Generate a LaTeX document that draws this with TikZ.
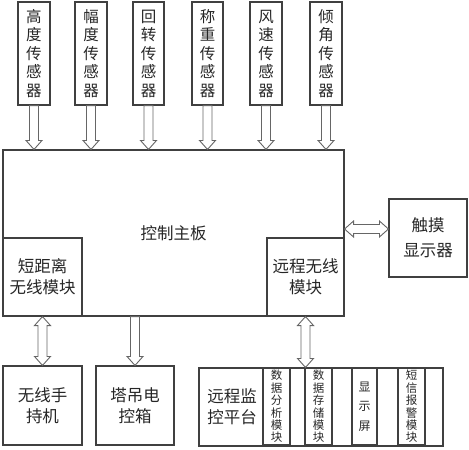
\documentclass[tikz,border=0pt]{standalone}
\usepackage{fontspec}
\setmainfont{Noto Sans CJK SC}
\usetikzlibrary{calc}

\begin{document}
\begin{tikzpicture}[
  x=1pt, y=-1pt,
  box/.style={rectangle, draw=black!75, line width=1.1pt, inner sep=0pt, align=center, text=black!85, font=\fontsize{16.5}{21}\selectfont},
  sensor/.style={box, minimum width=32pt, minimum height=103pt, font=\fontsize{15.5}{18.5}\selectfont},
  module/.style={box, minimum width=78pt, minimum height=78pt},
  sub/.style={box, line width=1.6pt, minimum width=27pt, minimum height=77pt, font=\fontsize{11.5}{12.4}\selectfont},
  arr/.style={draw=black!60, line width=0.9pt, fill=white,
    to path={($(\tikztostart)!4.5pt!90:(\tikztotarget)$)
      -- ($(\tikztotarget)!9pt!(\tikztostart)!4.5pt!90:(\tikztotarget)$)
      -- ($(\tikztotarget)!9pt!(\tikztostart)!8pt!90:(\tikztotarget)$)
      -- (\tikztotarget)
      -- ($(\tikztotarget)!9pt!(\tikztostart)!8pt!-90:(\tikztotarget)$)
      -- ($(\tikztotarget)!9pt!(\tikztostart)!4.5pt!-90:(\tikztotarget)$)
      -- ($(\tikztostart)!4.5pt!-90:(\tikztotarget)$) -- cycle}},
  darr/.style={draw=black!60, line width=0.9pt, fill=white,
    to path={(\tikztostart)
      -- ($(\tikztostart)!9pt!(\tikztotarget)!8pt!90:(\tikztotarget)$)
      -- ($(\tikztostart)!9pt!(\tikztotarget)!4.5pt!90:(\tikztotarget)$)
      -- ($(\tikztotarget)!9pt!(\tikztostart)!4.5pt!90:(\tikztotarget)$)
      -- ($(\tikztotarget)!9pt!(\tikztostart)!8pt!90:(\tikztotarget)$)
      -- (\tikztotarget)
      -- ($(\tikztotarget)!9pt!(\tikztostart)!8pt!-90:(\tikztotarget)$)
      -- ($(\tikztotarget)!9pt!(\tikztostart)!4.5pt!-90:(\tikztotarget)$)
      -- ($(\tikztostart)!9pt!(\tikztotarget)!4.5pt!-90:(\tikztotarget)$)
      -- ($(\tikztostart)!9pt!(\tikztotarget)!8pt!-90:(\tikztotarget)$) -- cycle}}
]
\useasboundingbox (0,0) rectangle (469,450);

% sensors
\node[sensor] (height) at (34,53.5) {高\\度\\传\\感\\器};
\node[sensor] (range) at (91,53.5) {幅\\度\\传\\感\\器};
\node[sensor, minimum width=31pt] (slew) at (148.5,53.5) {回\\转\\传\\感\\器};
\node[sensor, minimum width=31pt] (weight) at (207.5,53.5) {称\\重\\传\\感\\器};
\node[sensor] (wind) at (266,53.5) {风\\速\\传\\感\\器};
\node[sensor] (tilt) at (326,53.5) {倾\\角\\传\\感\\器};

% main board and its modules
\node[box, minimum width=341pt, minimum height=166pt] (board) at (173.5,233) {控制主板};
\node[module, minimum width=79pt] (short) at (42.5,277) {短距离\\无线模块};
\node[module, minimum width=77pt] (remote) at (305.5,277) {远程无线\\模块};
\node[module, font=\fontsize{16.5}{25}\selectfont] (touch) at (428,238) {触摸\\显示器};

% lower row
\node[module, minimum width=79pt, minimum height=79pt] (hand) at (42.5,405.5) {无线手\\持机};
\node[module, minimum height=79pt] (tower) at (135,405.5) {塔吊电\\控箱};
\node[box, minimum width=244pt, minimum height=78pt] (platform) at (321,407) {};
\node[align=center, text=black!85, font=\fontsize{16.5}{21}\selectfont] (platname) at (232,406.5) {远程监\\控平台};
\node[sub] (analysis) at (276.5,406.5) {数\\据\\分\\析\\模\\块};
\node[sub] (storage) at (318.5,406.5) {数\\据\\存\\储\\模\\块};
\node[sub, minimum width=25pt, font=\fontsize{12}{19.5}\selectfont] (screen) at (364.5,406.5) {显\\示\\屏};
\node[sub] (sms) at (411.5,406.5) {短\\信\\报\\警\\模\\块};

\draw[arr] (height.south) to (height.south |- board.north);
\draw[arr] (range.south) to (range.south |- board.north);
\draw[arr] (slew.south) to (slew.south |- board.north);
\draw[arr] (weight.south) to (weight.south |- board.north);
\draw[arr] (wind.south) to (wind.south |- board.north);
\draw[arr] (tilt.south) to (tilt.south |- board.north);

\coordinate (touchin) at ([yshift=9pt]touch.west);
\draw[darr] (touchin -| board.east) to (touchin);
\draw[darr] (short.south) to (hand.north);
\draw[arr] (tower.north |- board.south) to (tower.north);
\draw[darr] (remote.south) to (remote.south |- platform.north);
\end{tikzpicture}
\end{document}
